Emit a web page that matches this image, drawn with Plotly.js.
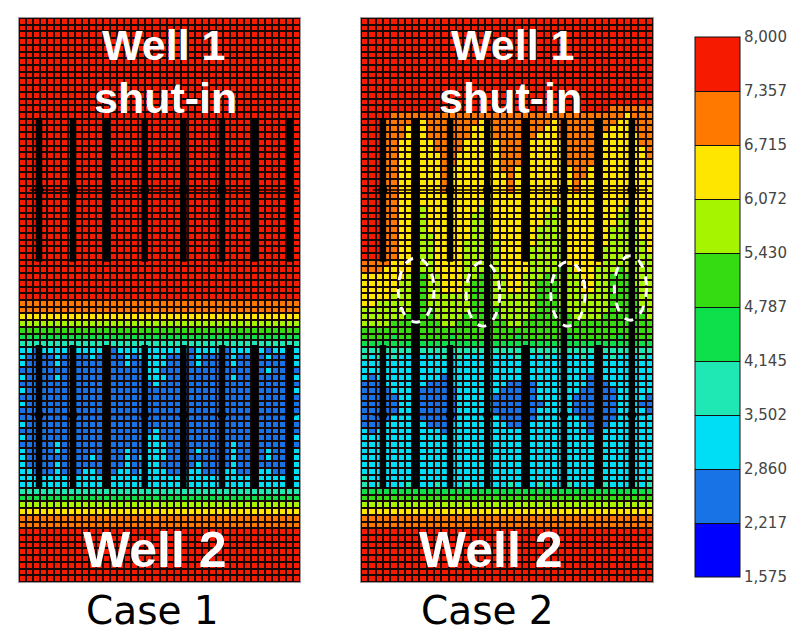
<!DOCTYPE html>
<html><head><meta charset="utf-8">
<script src="https://cdn.plot.ly/plotly-3.0.1.min.js"></script>
<style>html,body{margin:0;padding:0;background:#fff;}#chart{width:799px;height:635px;}</style>
</head><body><div id="chart"></div>
<script>
// pressure class boundaries (colour bar) and labels
const levelBounds = [1575, 2217, 2860, 3502, 4145, 4787, 5430, 6072, 6715, 7357, 8000];
const levelLabels = ['1,575','2,217','2,860','3,502','4,145','4,787','5,430','6,072','6,715','7,357','8,000'];
const levelColors = ['#0000ff','#1873e6','#00def5','#20e8b4','#0ee04c','#36dc12','#a6f400','#ffe600','#ff7800','#f51a00'];

// each string = one grid row (top to bottom), each digit = pressure class of a cell
const R9 = '9999999999999999999999999999999999999999';
const case1Rows = [
  R9,R9,R9,R9,R9,R9,R9,R9,R9,R9,R9,R9,R9,R9,R9,R9,R9,R9,R9,R9,R9,
  R9,R9,R9,R9,R9,R9,R9,R9,R9,R9,R9,R9,R9,R9,R9,R9,R9,R9,R9,R9,R9,
  '8888888888888888888888888888888888888888',
  '8888888888888888888888888888888888888888',
  '7777777777777777777777777777777777777777',
  '6666666666666666666666666666666666666666',
  '5555555555555555555555555555555555555555',
  '4444444444444444444444444444444444444444',
  '3333333333333333333333333333333333333333',
  '2212222122222122222222221222212222212222',
  '2111121111211112122221111211112111121112',
  '2111121111111112112221111211112111111112',
  '1111111111111111112211111111111111121111',
  '2111121111111111112221111111112111111112',
  '1111111111111111111211111111111111111111',
  '2111111111111111111111111111111111111112',
  '1111111111111111111111111111111111111111',
  '2111111111111111111111111111111111111111',
  '1111111111111111111111111111111111111111',
  '1111111111111111111111111111111111111112',
  '2111111111111111111111111111111111111111',
  '1111111111111111111211111111111111111111',
  '2111111111111111112211111111111111111112',
  '1111121111111111112221111111112111111111',
  '2111121111111112112221111211112111121112',
  '2111111111211112122221111111112111121112',
  '2111121111111112112211111211112111111112',
  '2211121112211122122221112211122111221122',
  '2222222222222222222222222222222222222222',
  '2222222222222222222222222222222222222222',
  '3333333333333333333333333333333333333333',
  '4444444444444444444444444444444444444444',
  '6666666666666666666666666666666666666666',
  '7777777777777777777777777777777777777777',
  '8888888888888888888888888888888888888888',
  '8888888888888888888888888888888888888888',
  R9,R9,R9,R9,R9,R9,R9,R9
];
const case2Rows = [
  R9,R9,R9,R9,R9,R9,R9,R9,R9,R9,R9,R9,R9,
  '9999999999999999999999999999999999888888',
  '9999888888888888888888888888888888887888',
  '9998888878888888788888888878888888877888',
  '9998887778888887778888888778888888777888',
  '9998887778888887778888887778888887777788',
  '9998877777888877777888877777888887777788',
  '9998877777888877777888877777888877777778',
  '9998877777788777777888777777888877777778',
  '9998877777788777777888777777888877777777',
  '9998877777787777777887777777788777777777',
  '9998877777787777777787777777788777777777',
  '9998877777787777777787777777787777777777',
  '9998877777787777777787777777787777777777',
  '9998877777777777777777777777777777777777',
  '9998877777777777777777777777777777777777',
  '9998877767777777677777777767777777776777',
  '9998877667777776677777777667777777766777',
  '9998877667777776667777777667777777766677',
  '9998877667777776667777776667777777666677',
  '9998877666777776667777776666777777666677',
  '9998877666777766666777776666777777666667',
  '9998877666777766666777766666777776666667',
  '9998877666777766666777766666777776666666',
  '8888777666777766666777766666777776666666',
  '8887777666777766656777766665677766656666',
  '7777776656677766556677666556667766555666',
  '7777766556677765556677665556667766555666',
  '7777766556677765556677665556667766555566',
  '7777666556666665556666665556666666555566',
  '7766666556666665556666665556666666555566',
  '6666666555666665555666665555666666555556',
  '6666665555666655555666655555566665555556',
  '6666555555566555555566555555555555555555',
  '5555555555555555555555555555555555555555',
  '5555455555554555555554555555455555545555',
  '4444444444444444444444444444444444444444',
  '3333333333333333333333333333333333333333',
  '3232322322232322232223222322223222322232',
  '2222222222222222222222222222222222222222',
  '2222222222222222222222222222222222222222',
  '2122222222212222222222122222222122222222',
  '1112222221112222222211112222222111222222',
  '1111222211111222222111112222221111122222',
  '1111122211111222221111112222211111122221',
  '1111122211111222221111111222211111122211',
  '1111122211111222221111112222211111122221',
  '1111222211111222222111112222221111122222',
  '1112222221112222222211122222222111222222',
  '2122222222212222222222122222222122222222',
  '2222222222222222222222222222222222222222',
  '2222222222222222222222222222222222222222',
  '2222222222222222222222222222222222222222',
  '2222222222222222222222222222222222222222',
  '2222222222222222222222222222222222222222',
  '2222222222222222222222222222222222222222',
  '3222222222222222222222222222222222222223',
  '3232223222322232222232223222322223222323',
  '4444444444444444444444444444444444444444',
  '5555555555555555555555555555555555555555',
  '6666666666666666666666666666666666666666',
  '7777777777777777777777777777777777777777',
  '8888888888888888888888888888888888888888',
  '8888888888888888888888888888888888888888',
  R9,R9,R9,R9,R9,R9,R9,R9
];

// fractures (grid units): x, top row, bottom row
const case1FracX  = [2.35, 7.2, 12.0, 17.4, 22.9, 28.4, 33.1, 38.1, 2.35, 7.2, 12.0, 17.4, 22.9, 28.4, 33.1, 38.1];
const case1FracY0 = [14.4,14.4,14.4,14.4,14.4,14.4,14.4,14.4, 48.2,48.2,48.2,48.2,48.2,48.2,48.2,48.2];
const case1FracY1 = [35.8,35.8,35.8,35.8,35.8,35.8,35.8,35.8, 69.5,69.5,69.5,69.5,69.5,69.5,69.5,69.5];
const case2FracX  = [2.5, 11.7, 22.1, 32.0, 2.5, 11.7, 22.1, 32.0, 7.0, 16.8, 27.3, 36.6];
const case2FracY0 = [14.4,14.4,14.4,14.4, 48.2,48.2,48.2,48.2, 14.4,14.4,14.4,14.4];
const case2FracY1 = [35.8,35.8,35.8,35.8, 69.5,69.5,69.5,69.5, 69.5,69.5,69.5,69.5];
// horizontal wells (grid row) and their extent
const wellRows = [25.1, 58.6];
const case1WellX = [1.1, 39.2];
const case2WellX = [1.1, 38.8];
// dashed ellipses in case 2 (x0, x1, y0, y1 in grid units)
const ellX0 = [4.6, 13.9, 25.5, 34.2];
const ellX1 = [9.5, 18.5, 30.2, 38.6];
const ellY0 = [35.2, 35.8, 35.8, 34.9];
const ellY1 = [44.8, 45.4, 45.4, 44.5];

const mids = levelBounds.slice(0, -1).map((b, i) => (b + levelBounds[i + 1]) / 2);
const toZ = rows => rows.map(r => r.split('').map(ch => mids[+ch]));
const cscale = [];
levelColors.forEach((c, i) => { cscale.push([i / 10, c]); cscale.push([(i + 1) / 10, c]); });

const hm = (rows, xa, ya, show) => ({
  type: 'heatmap', z: toZ(rows), xaxis: xa, yaxis: ya,
  zmin: levelBounds[0], zmax: levelBounds[levelBounds.length - 1],
  colorscale: cscale, xgap: 2, ygap: 2, showscale: show, hoverinfo: 'skip',
  colorbar: {
    x: 695 / 799, xanchor: 'left', xpad: 0, y: 1 - 37 / 635, yanchor: 'top', ypad: 0,
    len: 540, lenmode: 'pixels', thickness: 45, thicknessmode: 'pixels',
    outlinewidth: 1, outlinecolor: '#111',
    tickmode: 'array', tickvals: levelBounds, ticktext: levelLabels,
    ticks: 'inside', ticklen: 45, tickwidth: 1, tickcolor: '#111',
    tickfont: {family: 'DejaVu Sans', size: 15, color: '#444'}
  }
});

// horizontal well lines plus dots where they cross the fractures
const wellTraces = (fx, fy0, fy1, wx, xa, ya) => {
  const xs = [], ys = [], dx = [], dy = [];
  wellRows.forEach(r => {
    xs.push(wx[0], wx[1], null); ys.push(r, r, null);
    fx.forEach((x, i) => { if (fy0[i] < r && fy1[i] > r) { dx.push(x); dy.push(r); } });
  });
  return [
    {type: 'scatter', mode: 'lines', x: xs, y: ys, xaxis: xa, yaxis: ya,
     line: {color: 'rgba(20,0,0,0.75)', width: 2}, hoverinfo: 'skip', showlegend: false},
    {type: 'scatter', mode: 'markers', x: dx, y: dy, xaxis: xa, yaxis: ya,
     marker: {color: '#000', size: 9}, hoverinfo: 'skip', showlegend: false}
  ];
};

const shapes = [];
case1FracX.forEach((x, i) => shapes.push({type: 'line', xref: 'x', yref: 'y', x0: x, x1: x,
  y0: case1FracY0[i], y1: case1FracY1[i], line: {color: '#000', width: 6.5}}));
case2FracX.forEach((x, i) => shapes.push({type: 'line', xref: 'x2', yref: 'y2', x0: x, x1: x,
  y0: case2FracY0[i], y1: case2FracY1[i], line: {color: '#000', width: 6.5}}));
ellX0.forEach((x, i) => shapes.push({type: 'circle', xref: 'x2', yref: 'y2', x0: x, x1: ellX1[i],
  y0: ellY0[i], y1: ellY1[i], line: {color: '#fff', width: 3, dash: 'dash'}}));

const wlFont = s => ({family: 'Liberation Sans, Arial, sans-serif', size: s, color: '#fff'});
const caseFont = {family: 'DejaVu Sans', size: 39, color: '#000'};
const ann = [
  {xref: 'x', yref: 'y', x: 20.0, y: 3.5, text: '<b>Well 1</b>', font: wlFont(43)},
  {xref: 'x', yref: 'y', x: 20.3, y: 11.4, text: '<b>shut-in</b>', font: wlFont(43)},
  {xref: 'x', yref: 'y', x: 18.9, y: 78.7, text: '<b>Well 2</b>', font: wlFont(50)},
  {xref: 'x2', yref: 'y2', x: 20.2, y: 3.5, text: '<b>Well 1</b>', font: wlFont(43)},
  {xref: 'x2', yref: 'y2', x: 20.0, y: 11.4, text: '<b>shut-in</b>', font: wlFont(43)},
  {xref: 'x2', yref: 'y2', x: 17.3, y: 78.7, text: '<b>Well 2</b>', font: wlFont(50)},
  {xref: 'paper', yref: 'paper', x: 152 / 799, y: 0, yanchor: 'bottom', text: 'Case 1', font: caseFont},
  {xref: 'paper', yref: 'paper', x: 487 / 799, y: 0, yanchor: 'bottom', text: 'Case 2', font: caseFont}
].map(a => Object.assign({showarrow: false, xanchor: 'center', yanchor: 'middle'}, a));

const ax = (dom, range, anchor) => ({domain: dom, range: range, anchor: anchor, showgrid: false,
  zeroline: false, showticklabels: false, ticks: '', showline: true, mirror: true,
  linecolor: '#999', linewidth: 1, fixedrange: true});

const ydom = [1 - 582 / 635, 1 - 18 / 635];
const layout = {
  width: 799, height: 635, margin: {l: 0, r: 0, t: 0, b: 0, autoexpand: false},
  paper_bgcolor: '#fff', plot_bgcolor: '#180806', showlegend: false,
  xaxis: ax([19 / 799, 300 / 799], [-0.5, 39.5], 'y'),
  yaxis: ax(ydom, [83.5, -0.5], 'x'),
  xaxis2: ax([361 / 799, 653 / 799], [-0.5, 39.5], 'y2'),
  yaxis2: ax(ydom, [83.5, -0.5], 'x2'),
  shapes: shapes, annotations: ann
};

Plotly.newPlot('chart', [
  hm(case1Rows, 'x', 'y', true),
  hm(case2Rows, 'x2', 'y2', false),
  ...wellTraces(case1FracX, case1FracY0, case1FracY1, case1WellX, 'x', 'y'),
  ...wellTraces(case2FracX, case2FracY0, case2FracY1, case2WellX, 'x2', 'y2')
], layout, {displayModeBar: false, staticPlot: true});
</script></body></html>
